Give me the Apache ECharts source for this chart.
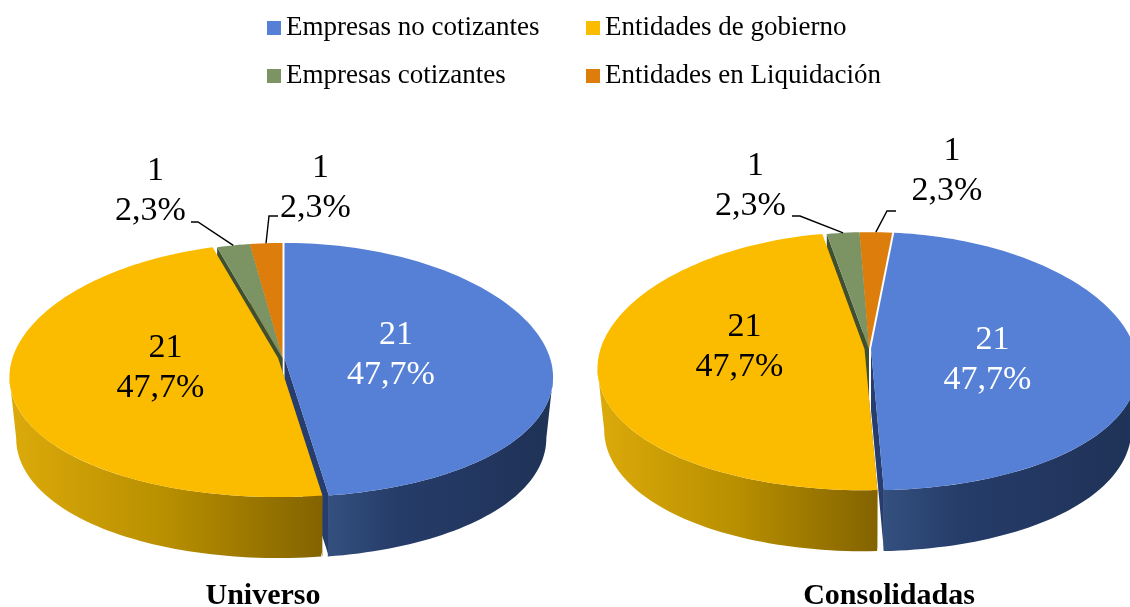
<!DOCTYPE html>
<html><head><meta charset="utf-8">
<style>html,body{margin:0;padding:0;background:#fff}#c{width:1130px;height:607px}</style>
<script src="https://cdn.jsdelivr.net/npm/echarts@6/dist/echarts.min.js"></script>
</head><body><div id="c"></div>
<script>
const categories = ['Empresas no cotizantes','Entidades de gobierno','Empresas cotizantes','Entidades en Liquidación'];
const universo = [21,21,1,1];
const consolidadas = [21,21,1,1];
const pieTitles = ['Universo','Consolidadas'];

const topColors = ['#5580d6','#fbbc00','#7c9463','#dc7d0c'];
const cutColors = ['#263d6e','#8a6a00','#3f4f30','#b3650a'];
const wallStops = [
  [[0,'#34507f'],[0.3,'#263c69'],[1,'#1f3257']],
  [[0,'#dcaa0a'],[0.5,'#b88f00'],[1,'#836300']],
  [[0,'#5b6f48'],[1,'#5b6f48']],
  [[0,'#a55c08'],[1,'#a55c08']]
];
const labelColors = ['#fff','#000','#000','#000'];
const sliceOffsetX = [3,-3.5,1,1];
const LINE = 40, DX = 5, FONT = '34px "Liberation Serif"';
const pies = [
  {vals:universo, cx:281.5, y0:358, A:265.5, B:125.9, start:0, depth:61,
   labels:[[391,355],[160.5,368.5],[150.5,191.5],[315.5,188]],
   elbow:[null,null,[[191,222],[198,222]],[[278,216],[269,216]]]},
  {vals:consolidadas, cx:868, y0:349, A:264, B:127.9, start:5.8, depth:61,
   labels:[[987.5,360],[739.5,347],[750.5,186],[947,171]],
   elbow:[null,null,[[792,216],[800,216]],[[896,211],[887,211]]]}
];
const qx = 0.15, qy = 0.0945, floorScale = 0.975;
const rad = d => d*Math.PI/180;
const sideDeg = Math.acos(-qx)*180/Math.PI; // where the rim reaches its widest point
function pt(p,deg,ox){
  const s=Math.sin(rad(deg)), c=Math.cos(rad(deg));
  return [p.cx+ox+p.A*s/(1+qx*c), p.y0-p.B*c/(1+qy*c)];
}
function arc(p,a,b,ox){
  const out=[], n=Math.max(2,Math.ceil(Math.abs(b-a)/1.5));
  for(let i=0;i<=n;i++) out.push(pt(p,a+(b-a)*i/n,ox));
  return out;
}
function sliceAngles(p,idx){
  const total=p.vals.reduce((a,b)=>a+b,0);
  let acc=0; for(let i=0;i<idx;i++) acc+=p.vals[i];
  return [p.start+acc/total*360, p.start+(acc+p.vals[idx])/total*360, total];
}
function floorRim(p,pts,ox){
  return pts.map(q=>[p.cx+ox+(q[0]-p.cx-ox)*floorScale,q[1]+p.depth]);
}

function renderer(ci){
  return function(params,api){
    const p=pies[params.dataIndex], ox=sliceOffsetX[ci];
    const [a,b,total]=sliceAngles(p,ci);
    const apex=[p.cx+ox,p.y0];
    const children=[];
    // radial cut face that shows through the gap between slices
    const cutDeg = ci===0 ? b : a;
    const e=pt(p,cutDeg,ox);
    children.push({type:'polygon',shape:{points:[apex,e,[e[0],e[1]+p.depth],[apex[0],apex[1]+p.depth]]},
      style:{fill:cutColors[ci]}});
    // outer wall: only the near part of the rim, between its two widest points
    const wa=Math.max(a,sideDeg), wb=Math.min(b,360-sideDeg);
    if(wb>wa){
      const rim=arc(p,wa,wb,ox);
      children.push({type:'polygon',shape:{points:rim.concat(floorRim(p,rim,ox).reverse())},
        style:{fill:{type:'linear',x:0,y:0,x2:1,y2:0,global:false,
          colorStops:wallStops[ci].map(s=>({offset:s[0],color:s[1]}))}}});
    }
    // top face
    children.push({type:'polygon',shape:{points:[apex].concat(arc(p,a,b,ox))},style:{fill:topColors[ci]}});
    // leader line
    if(p.elbow[ci]){
      children.push({type:'polyline',shape:{points:p.elbow[ci].concat([pt(p,(a+b)/2,ox)])},
        style:{stroke:'#000',lineWidth:1.4,fill:null},z2:5});
    }
    // data label: count above percentage
    const v=api.value(0);
    const pct=(v/total*100).toFixed(1).replace('.',',')+'%';
    const L=p.labels[ci];
    const txt=(t,x,y)=>({type:'text',z2:6,style:{text:t,x,y,fill:labelColors[ci],font:FONT,align:'center',verticalAlign:'middle'}});
    children.push(txt(String(v),L[0]+DX,L[1]-LINE/2));
    children.push(txt(pct,L[0],L[1]+LINE/2));
    return {type:'group',children};
  };
}

const series=categories.map((name,i)=>({
  type:'custom',name,coordinateSystem:'none',silent:true,
  z:[4,5,3,2][i],
  itemStyle:{color:topColors[i]},
  data:[[universo[i]],[consolidadas[i]]],
  renderItem:renderer(i),
  clip:false
}));

const legendPos=[[267,11],[586,11],[267,59],[586,59]];
const legend=categories.map((name,i)=>({
  data:[name],icon:'rect',itemWidth:14,itemHeight:14,left:legendPos[i][0],top:legendPos[i][1],padding:0,
  selectedMode:false,
  textStyle:{fontFamily:'Liberation Serif',fontSize:27,color:'#000',lineHeight:30,padding:[4,0,0,0]}
}));

const chart=echarts.init(document.getElementById('c'),null,{renderer:'canvas'});
chart.setOption({
  animation:false,backgroundColor:'#fff',
  title:pieTitles.map((t,i)=>({text:t,left:[263,889][i],top:581,padding:0,textAlign:'center',
    textStyle:{fontFamily:'Liberation Serif',fontSize:30,fontWeight:'bold',color:'#000'}})),
  legend,series
});
</script></body></html>
